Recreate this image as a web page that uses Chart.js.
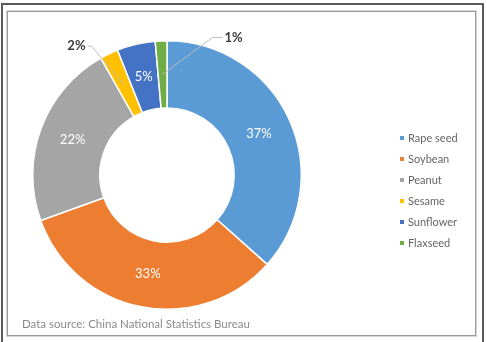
<!DOCTYPE html>
<html>
<head>
<meta charset="utf-8">
<script src="https://cdn.jsdelivr.net/npm/chart.js@4.4.1/dist/chart.umd.min.js"></script>
<style>
  html, body { margin: 0; padding: 0; background: #fff; }
  #wrap { position: relative; width: 487px; height: 342px; overflow: hidden; }
  .frame-outer { position: absolute; left: 1px; top: 3px; width: 479px; height: 360px; border: 2px solid #5a5a5a; }
  .frame-inner { position: absolute; left: 7px; top: 11px; width: 467px; height: 323px; border: 1px solid #9a9a9a; box-shadow: 0 0 0 1px #d6d6d6; }
  #source { position: absolute; left: 22px; top: 317px; font: 11.5px Lato, "Open Sans", sans-serif; color: #8a8a8a; }
  canvas { position: absolute; left: 0; top: 0; }
</style>
</head>
<body>
<div id="wrap">
  <div class="frame-outer"></div>
  <div class="frame-inner"></div>
  <canvas id="pie" width="487" height="342"></canvas>
  <div id="source">Data source: China National Statistics Bureau</div>
</div>
<script>
// 01. 데이터
var categories = ["Rape seed", "Soybean", "Peanut", "Sesame", "Sunflower", "Flaxseed"];
var shares = [36.6, 32.9, 22.3, 2.2, 4.6, 1.4];
var colors = ["#5b9bd5", "#ed7d31", "#a5a5a5", "#ffc000", "#4472c4", "#70ad47"];

// 02. 바깥 라벨 (지시선) 위치 - 조각 중앙점 기준 꺾임 위치
var callouts = {
  3: { dx: -32, dy: -38, tail: -4 },
  5: { dx: 50, dy: -37, tail: 10 }
};

var labelPlugin = {
  id: "sliceLabels",
  afterDatasetsDraw: function(chart) {
    var ctx = chart.ctx;
    var meta = chart.getDatasetMeta(0);
    var total = shares.reduce(function(a, b) { return a + b; }, 0);
    ctx.save();
    ctx.textBaseline = "middle";
    meta.data.forEach(function(arc, i) {
      var txt = Math.round(shares[i] / total * 100) + "%";
      var pos = arc.tooltipPosition();
      var c = callouts[i];
      if (!c) {
        ctx.font = "13px Lato, 'Open Sans', sans-serif";
        ctx.fillStyle = "#ffffff";
        ctx.textAlign = "center";
        ctx.fillText(txt, pos.x, pos.y);
        return;
      }
      var ex = pos.x + c.dx, ey = pos.y + c.dy;
      ctx.strokeStyle = "#bdbdbd";
      ctx.lineWidth = 1;
      ctx.beginPath();
      ctx.moveTo(pos.x, pos.y);
      ctx.lineTo(ex, ey);
      ctx.lineTo(ex + c.tail, ey);
      ctx.stroke();
      ctx.font = "bold 13px Lato, 'Open Sans', sans-serif";
      ctx.fillStyle = "#3a3a3a";
      ctx.textAlign = c.tail < 0 ? "right" : "left";
      ctx.fillText(txt, ex + c.tail + (c.tail < 0 ? -2 : 2), ey);
    });
    ctx.restore();
  }
};

// 03. 범례
var legendPlugin = {
  id: "sideLegend",
  afterDraw: function(chart) {
    var ctx = chart.ctx;
    ctx.save();
    ctx.font = "11px Lato, 'Open Sans', sans-serif";
    ctx.textBaseline = "middle";
    ctx.textAlign = "left";
    chart.data.labels.forEach(function(lab, i) {
      var y = 138 + i * 21;
      ctx.fillStyle = chart.data.datasets[0].backgroundColor[i];
      ctx.fillRect(400, y - 2, 4, 4);
      ctx.fillStyle = "#666666";
      ctx.fillText(lab, 408, y);
    });
    ctx.restore();
  }
};

new Chart(document.getElementById("pie"), {
  type: "doughnut",
  data: {
    labels: categories,
    datasets: [{
      data: shares,
      backgroundColor: colors,
      borderColor: "#ffffff",
      borderWidth: 1.5
    }]
  },
  options: {
    responsive: false,
    animation: false,
    cutout: "50%",
    layout: { padding: { left: 32, right: 185, top: 40, bottom: 32 } },
    plugins: {
      legend: { display: false },
      tooltip: { enabled: false }
    }
  },
  plugins: [labelPlugin, legendPlugin]
});
</script>
</body>
</html>
